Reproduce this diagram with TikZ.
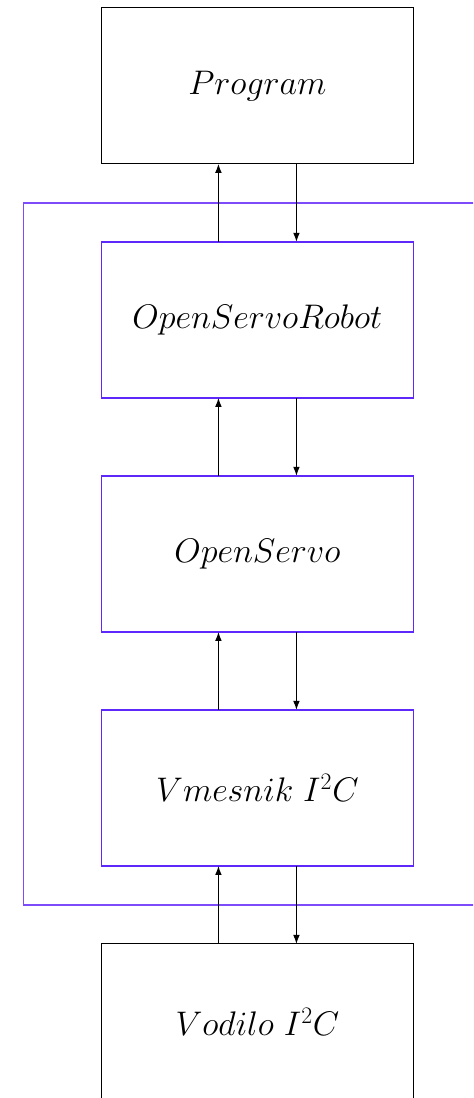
\documentclass[tikz,border=0pt]{standalone}
\usepackage{amsmath}
\usepackage{tikz}
\usetikzlibrary{arrows.meta, positioning}

\definecolor{layerblue}{RGB}{95,40,250}
\definecolor{frameblue}{RGB}{125,75,250}

\begin{document}
\begin{tikzpicture}[node distance=2cm, >={Latex[length=2.3mm,width=1.7mm]}, line width=0.8pt]

    % Define the styles
    \tikzstyle{block} = [rectangle, draw, text centered, minimum width=8cm, minimum height=4cm, inner sep=0pt, outer sep=0pt, font=\fontsize{24}{29}\selectfont]
    \tikzstyle{layer} = [block, draw=layerblue, line width=1.3pt]
    \tikzstyle{arrow} = [->, black]

    \useasboundingbox (-6.6,0.2) rectangle (5.53,-27.95);
    \clip (-6.6,0.2) rectangle (5.53,-27.95);

    % Nodes
    \node (program) [block, anchor=north] at (0,0) {$Program$};
    \node (robot) [layer, below=of program] {$OpenServoRobot$};
    \node (servo) [layer, below=of robot] {$OpenServo$};
    \node (vmesnik) [layer, below=of servo] {$Vmesnik\ I^2C$};
    \node (vodilo) [block, below=of vmesnik] {$Vodilo\ I^2C$};

    % Frame around the layers
    \draw [frameblue, line width=1.3pt] ([shift={(-2,1)}]robot.north west) rectangle ([shift={(2,-1)}]vmesnik.south east);

    % Arrows
    \draw [arrow] ([xshift=-1cm]robot.north) -- ([xshift=-1cm]program.south);
    \draw [arrow] ([xshift=1cm]program.south) -- ([xshift=1cm]robot.north);
    \draw [arrow] ([xshift=-1cm]servo.north) -- ([xshift=-1cm]robot.south);
    \draw [arrow] ([xshift=1cm]robot.south) -- ([xshift=1cm]servo.north);
    \draw [arrow] ([xshift=-1cm]vmesnik.north) -- ([xshift=-1cm]servo.south);
    \draw [arrow] ([xshift=1cm]servo.south) -- ([xshift=1cm]vmesnik.north);
    \draw [arrow] ([xshift=-1cm]vodilo.north) -- ([xshift=-1cm]vmesnik.south);
    \draw [arrow] ([xshift=1cm]vmesnik.south) -- ([xshift=1cm]vodilo.north);

\end{tikzpicture}
\end{document}
